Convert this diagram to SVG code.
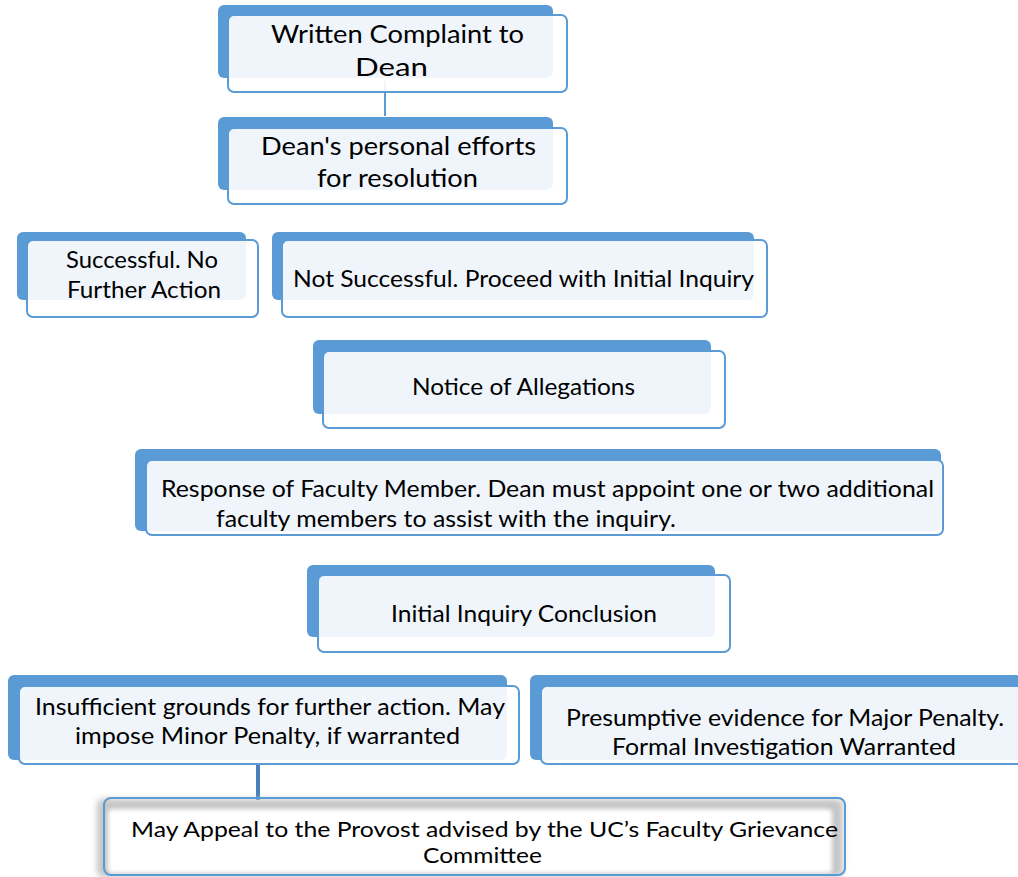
<svg xmlns="http://www.w3.org/2000/svg" width="1018" height="877" viewBox="0 0 1018 877">
<defs>
<style>
.back{fill:#5B9BD5;}
.front{fill:#FFFFFF;fill-opacity:0.9;stroke:#5B9BD5;stroke-width:2;}
.t{font-family:Lato,"Open Sans","Liberation Sans",sans-serif;fill:#000;text-anchor:start;}
.big{font-size:25px;}
.mid{font-size:23px;}
.sm{font-size:21px;}
.conn{stroke:#5B9BD5;stroke-width:2;fill:none;}
.conn2{stroke:#4A7EBB;stroke-width:4;fill:none;}
</style>
<filter id="blur" x="-5%" y="-20%" width="110%" height="140%"><feGaussianBlur stdDeviation="3"/></filter>
<filter id="blur2" x="-5%" y="-20%" width="110%" height="140%"><feGaussianBlur stdDeviation="2"/></filter>
</defs>
<rect width="1018" height="877" fill="#FFFFFF"/>
<g id="connectors">
<line class="conn" x1="385" y1="81" x2="385" y2="116"/>
<line class="conn2" x1="258" y1="764" x2="258" y2="800"/>
</g>
<g id="n1">
<rect class="back" x="218" y="5" width="335" height="73" rx="6"/>
<rect class="front" x="228" y="15" width="339" height="77" rx="6"/>
<text class="t big" x="271" y="43" textLength="253" lengthAdjust="spacingAndGlyphs">Written Complaint to</text>
<text class="t big" x="355" y="76" textLength="73" lengthAdjust="spacingAndGlyphs">Dean</text>
</g>
<g id="n2">
<rect class="back" x="218" y="117" width="335" height="73" rx="6"/>
<rect class="front" x="228" y="128" width="339" height="76" rx="6"/>
<text class="t big" x="261" y="155" textLength="275" lengthAdjust="spacingAndGlyphs">Dean's personal efforts</text>
<text class="t big" x="317" y="187" textLength="161" lengthAdjust="spacingAndGlyphs">for resolution</text>
</g>
<g id="n3">
<rect class="back" x="17" y="232" width="229" height="68" rx="6"/>
<rect class="front" x="27" y="240" width="231" height="77" rx="6"/>
<text class="t mid" x="66" y="268" textLength="152" lengthAdjust="spacingAndGlyphs">Successful. No</text>
<text class="t mid" x="67" y="298" textLength="154" lengthAdjust="spacingAndGlyphs">Further Action</text>
</g>
<g id="n4">
<rect class="back" x="272" y="232" width="482" height="68" rx="6"/>
<rect class="front" x="282" y="240" width="485" height="77" rx="6"/>
<text class="t mid" x="293" y="287" textLength="461" lengthAdjust="spacingAndGlyphs">Not Successful. Proceed with Initial Inquiry</text>
</g>
<g id="n5">
<rect class="back" x="313" y="340" width="398" height="74" rx="6"/>
<rect class="front" x="323" y="351" width="402" height="77" rx="6"/>
<text class="t mid" x="412" y="395" textLength="223" lengthAdjust="spacingAndGlyphs">Notice of Allegations</text>
</g>
<g id="n6">
<rect class="back" x="135" y="449" width="806" height="82" rx="6"/>
<rect class="front" x="146" y="460" width="797" height="75" rx="6"/>
<text class="t mid" x="161" y="497" textLength="773" lengthAdjust="spacingAndGlyphs">Response of Faculty Member. Dean must appoint one or two additional</text>
<text class="t mid" x="216" y="527" textLength="460" lengthAdjust="spacingAndGlyphs">faculty members to assist with the inquiry.</text>
</g>
<g id="n7">
<rect class="back" x="307" y="565" width="408" height="72" rx="6"/>
<rect class="front" x="318" y="575" width="412" height="77" rx="6"/>
<text class="t mid" x="391" y="622" textLength="266" lengthAdjust="spacingAndGlyphs">Initial Inquiry Conclusion</text>
</g>
<g id="n8">
<rect class="back" x="8" y="675" width="499" height="85" rx="6"/>
<rect class="front" x="19" y="686" width="500" height="78" rx="6"/>
<text class="t mid" x="35" y="715" textLength="470" lengthAdjust="spacingAndGlyphs">Insufficient grounds for further action. May</text>
<text class="t mid" x="75" y="744" textLength="385" lengthAdjust="spacingAndGlyphs">impose Minor Penalty, if warranted</text>
</g>
<g id="n9">
<rect class="back" x="530" y="675" width="492" height="85" rx="6"/>
<rect class="front" x="541" y="686" width="485" height="78" rx="6"/>
<text class="t mid" x="566" y="726" textLength="438" lengthAdjust="spacingAndGlyphs">Presumptive evidence for Major Penalty.</text>
<text class="t mid" x="612" y="755" textLength="344" lengthAdjust="spacingAndGlyphs">Formal Investigation Warranted</text>
</g>
<g id="n10">
<rect x="97" y="799" width="746" height="78" rx="6" fill="#C4C4C4" filter="url(#blur)"/>
<rect x="108" y="809" width="724" height="64" rx="4" fill="#FFFFFF" filter="url(#blur2)"/>
<rect x="104" y="798" width="741" height="77" rx="7" fill="none" stroke="#5B9BD5" stroke-width="2"/>
<text class="t sm" x="131" y="837" textLength="707" lengthAdjust="spacingAndGlyphs">May Appeal to the Provost advised by the UC’s Faculty Grievance</text>
<text class="t sm" x="423" y="863" textLength="119" lengthAdjust="spacingAndGlyphs">Committee</text>
</g>
</svg>
